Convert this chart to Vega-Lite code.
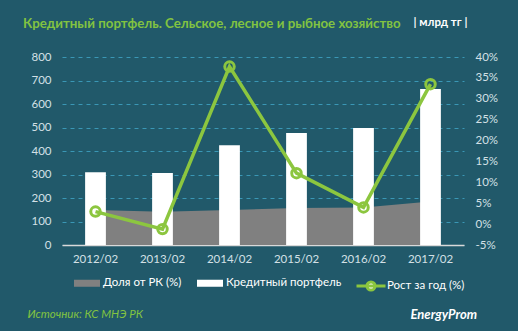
{
  "$schema": "https://vega.github.io/schema/vega-lite/v6.json",
  "width": 402,
  "height": 188,
  "autosize": {"type": "none"},
  "padding": {"left": 62, "top": 57, "right": 54, "bottom": 86},
  "background": "#21596a",
  "config": {
    "view": {"stroke": null},
    "font": "Lato",
    "axis": {"labelFont": "Lato", "titleFont": "Lato", "labelColor": "#d3e0e6", "labelFontSize": 11.5, "ticks": false, "domain": false, "grid": false, "labelOverlap": false}
  },
  "title": {
    "text": "Кредитный портфель. Сельское, лесное и рыбное хозяйство",
    "anchor": "start",
    "frame": "group",
    "dx": -39,
    "offset": -14,
    "font": "Lato",
    "fontSize": 13.3,
    "fontWeight": "bold",
    "color": "#82c341"
  },
  "data": {
    "values": [
      {"period": "2012/02", "portfolio": 310, "share": 149, "growth": 3.0},
      {"period": "2013/02", "portfolio": 306, "share": 142, "growth": -1.2},
      {"period": "2014/02", "portfolio": 425, "share": 149, "growth": 37.7},
      {"period": "2015/02", "portfolio": 477, "share": 157, "growth": 12.2},
      {"period": "2016/02", "portfolio": 498, "share": 160, "growth": 4.0},
      {"period": "2017/02", "portfolio": 664, "share": 185, "growth": 33.5}
    ]
  },
  "encoding": {
    "x": {
      "field": "period",
      "type": "ordinal",
      "scale": {"paddingInner": 0.69, "paddingOuter": 0.345},
      "axis": {
        "labelAngle": 0,
        "labelPadding": 8,
        "domain": true,
        "domainColor": "#d9d9d9",
        "domainWidth": 1.5,
        "title": "Источник: КС МНЭ РК",
        "titleAngle": 0,
        "titleAlign": "left",
        "titleBaseline": "middle",
        "titleX": -35,
        "titleY": 69,
        "titleColor": "#82c341",
        "titleFontStyle": "italic",
        "titleFontWeight": "normal",
        "titleFontSize": 11.5
      }
    }
  },
  "layer": [
    {
      "layer": [
        {
          "mark": {"type": "area", "opacity": 1},
          "encoding": {
            "y": {
              "field": "share",
              "type": "quantitative",
              "scale": {"domain": [0, 800]},
              "axis": {
                "values": [0, 100, 200, 300, 400, 500, 600, 700, 800],
                "labelPadding": 11,
                "grid": true,
                "gridColor": "#3a97b5",
                "gridDash": [4, 4],
                "gridWidth": 1,
                "title": "| млрд тг |",
                "titleAngle": 0,
                "titleAlign": "left",
                "titleBaseline": "middle",
                "titleX": 351,
                "titleY": -35,
                "titleColor": "#ffffff",
                "titleFontSize": 11.5,
                "titleFontWeight": "bold"
              }
            },
            "color": {"datum": "Доля от РК (%)"}
          }
        },
        {
          "mark": {"type": "bar"},
          "encoding": {
            "y": {
              "field": "portfolio",
              "type": "quantitative",
              "scale": {"domain": [0, 800]},
              "axis": {
                "values": [0, 100, 200, 300, 400, 500, 600, 700, 800],
                "labelPadding": 11,
                "grid": true,
                "gridColor": "#3a97b5",
                "gridDash": [4, 4],
                "gridWidth": 1,
                "title": "| млрд тг |",
                "titleAngle": 0,
                "titleAlign": "left",
                "titleBaseline": "middle",
                "titleX": 351,
                "titleY": -35,
                "titleColor": "#ffffff",
                "titleFontSize": 11.5,
                "titleFontWeight": "bold"
              }
            },
            "color": {
              "datum": "Кредитный портфель",
              "scale": {"domain": ["Доля от РК (%)", "Кредитный портфель"], "range": ["#808080", "#ffffff"]},
              "legend": {
                "title": null,
                "orient": "none",
                "legendX": 12,
                "legendY": 213,
                "direction": "horizontal",
                "symbolType": "M-1,-0.27H1V0.27H-1Z",
                "symbolSize": 676,
                "symbolStrokeWidth": 0,
                "labelColor": "#ffffff",
                "labelFont": "Lato",
                "labelFontSize": 11.5,
                "labelOffset": 3,
                "columnPadding": 15
              }
            }
          }
        }
      ]
    },
    {
      "layer": [
        {
          "mark": {"type": "line", "strokeWidth": 3.5},
          "encoding": {
            "y": {
              "field": "growth",
              "type": "quantitative",
              "scale": {"domain": [-5, 40]},
              "axis": {
                "orient": "right",
                "values": [-5, 0, 5, 10, 15, 20, 25, 30, 35, 40],
                "labelExpr": "datum.value + '%'",
                "labelPadding": 11,
                "title": "EnergyProm",
                "titleAngle": 0,
                "titleAlign": "left",
                "titleBaseline": "middle",
                "titleX": -54,
                "titleY": 257,
                "titleColor": "#ffffff",
                "titleFontSize": 13,
                "titleFontStyle": "italic",
                "titleFontWeight": "bold"
              }
            },
            "stroke": {
              "datum": "Рост за год (%)",
              "scale": {"range": ["#8cc63f"]},
              "legend": {
                "title": null,
                "orient": "none",
                "legendX": 293,
                "legendY": 213,
                "symbolType": "M-1,0H1M0.28,0A0.28,0.28 0 1,1 -0.28,0A0.28,0.28 0 1,1 0.28,0",
                "symbolSize": 841,
                "symbolStrokeWidth": 3,
                "symbolFillColor": "#ffffff",
                "labelColor": "#ffffff",
                "labelFont": "Lato",
                "labelFontSize": 11.5,
                "labelOffset": 0
              }
            }
          }
        },
        {
          "mark": {"type": "point", "filled": false, "shape": "circle", "size": 90, "strokeWidth": 3, "color": "#8cc63f", "opacity": 1},
          "encoding": {
            "y": {
              "field": "growth",
              "type": "quantitative",
              "scale": {"domain": [-5, 40]},
              "axis": {
                "orient": "right",
                "values": [-5, 0, 5, 10, 15, 20, 25, 30, 35, 40],
                "labelExpr": "datum.value + '%'",
                "labelPadding": 11,
                "title": "EnergyProm",
                "titleAngle": 0,
                "titleAlign": "left",
                "titleBaseline": "middle",
                "titleX": -54,
                "titleY": 257,
                "titleColor": "#ffffff",
                "titleFontSize": 13,
                "titleFontStyle": "italic",
                "titleFontWeight": "bold"
              }
            }
          }
        }
      ]
    }
  ],
  "resolve": {"scale": {"y": "independent"}}
}
